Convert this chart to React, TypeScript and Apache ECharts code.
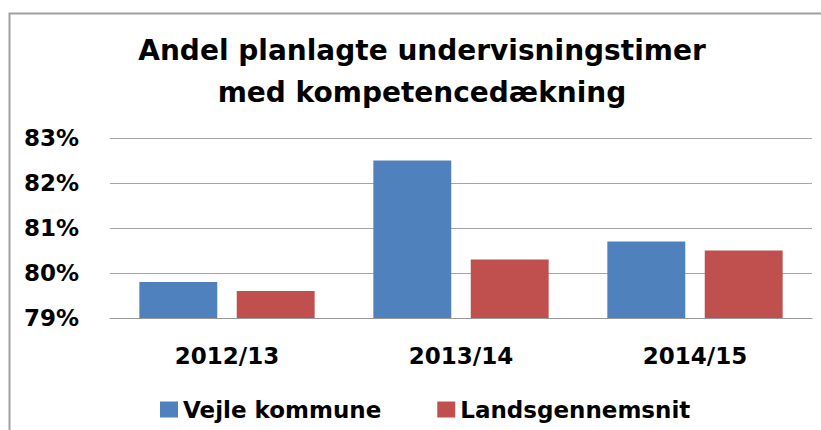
import React, { useEffect, useRef } from "react";
import * as echarts from "echarts";

const categories = ["2012/13", "2013/14", "2014/15"];
const vejle = [79.8, 82.5, 80.7];
const lands = [79.6, 80.3, 80.5];
const seriesNames = ["Vejle kommune", "Landsgennemsnit"];
const titleLines = ["Andel planlagte undervisningstimer", "med kompetencedækning"];

const FONT = "'DejaVu Sans', 'Open Sans', sans-serif";

export default function App() {
  const ref = useRef<HTMLDivElement>(null);
  useEffect(() => {
    document.body.style.margin = "0";
    if (!ref.current) return;
    const chart = echarts.init(ref.current, null, { renderer: "svg" });
    chart.setOption({
      animation: false,
      backgroundColor: "#ffffff",
      textStyle: { fontFamily: FONT },
      graphic: [
        {
          type: "rect",
          shape: { x: 9.5, y: 13.5, width: 900, height: 500 },
          style: { fill: "none", stroke: "#a0a0a0", lineWidth: 2 },
          silent: true,
        },
        {
          type: "text",
          x: 422,
          y: 29,
          style: {
            text: titleLines.join("\n"),
            textAlign: "center",
            textVerticalAlign: "top",
            fontFamily: FONT,
            fontSize: 28,
            fontWeight: "bold",
            lineHeight: 42,
            fill: "#000000",
          },
        },
      ],
      grid: { left: 110, right: 9, top: 138, bottom: 112 },
      legend: {
        data: seriesNames,
        left: 155,
        top: 393,
        itemWidth: 18,
        itemHeight: 16,
        itemGap: 56,
        icon: "rect",
        textStyle: { fontFamily: FONT, fontSize: 23, fontWeight: "bold", color: "#000" },
      },
      xAxis: {
        type: "category",
        data: categories,
        axisLine: { lineStyle: { color: "#999999", width: 1 } },
        axisTick: { show: false },
        axisLabel: { margin: 26, fontFamily: FONT, fontSize: 23, fontWeight: "bold", color: "#000" },
      },
      yAxis: {
        type: "value",
        min: 79,
        max: 83,
        interval: 1,
        axisLine: { show: false },
        axisTick: { show: false },
        splitLine: { lineStyle: { color: "#a6a6a6", width: 1 } },
        axisLabel: {
          formatter: "{value}%",
          margin: 31,
          fontFamily: FONT,
          fontSize: 23,
          fontWeight: "bold",
          color: "#000",
        },
      },
      series: [
        {
          name: seriesNames[0],
          type: "bar",
          data: vejle,
          barWidth: "33.3%",
          barGap: "25%",
          itemStyle: { color: "#4f81bd" },
        },
        {
          name: seriesNames[1],
          type: "bar",
          data: lands,
          barWidth: "33.3%",
          barGap: "25%",
          itemStyle: { color: "#c0504d" },
        },
      ],
    });
    return () => chart.dispose();
  }, []);
  return <div ref={ref} style={{ width: 821, height: 430 }} />;
}
